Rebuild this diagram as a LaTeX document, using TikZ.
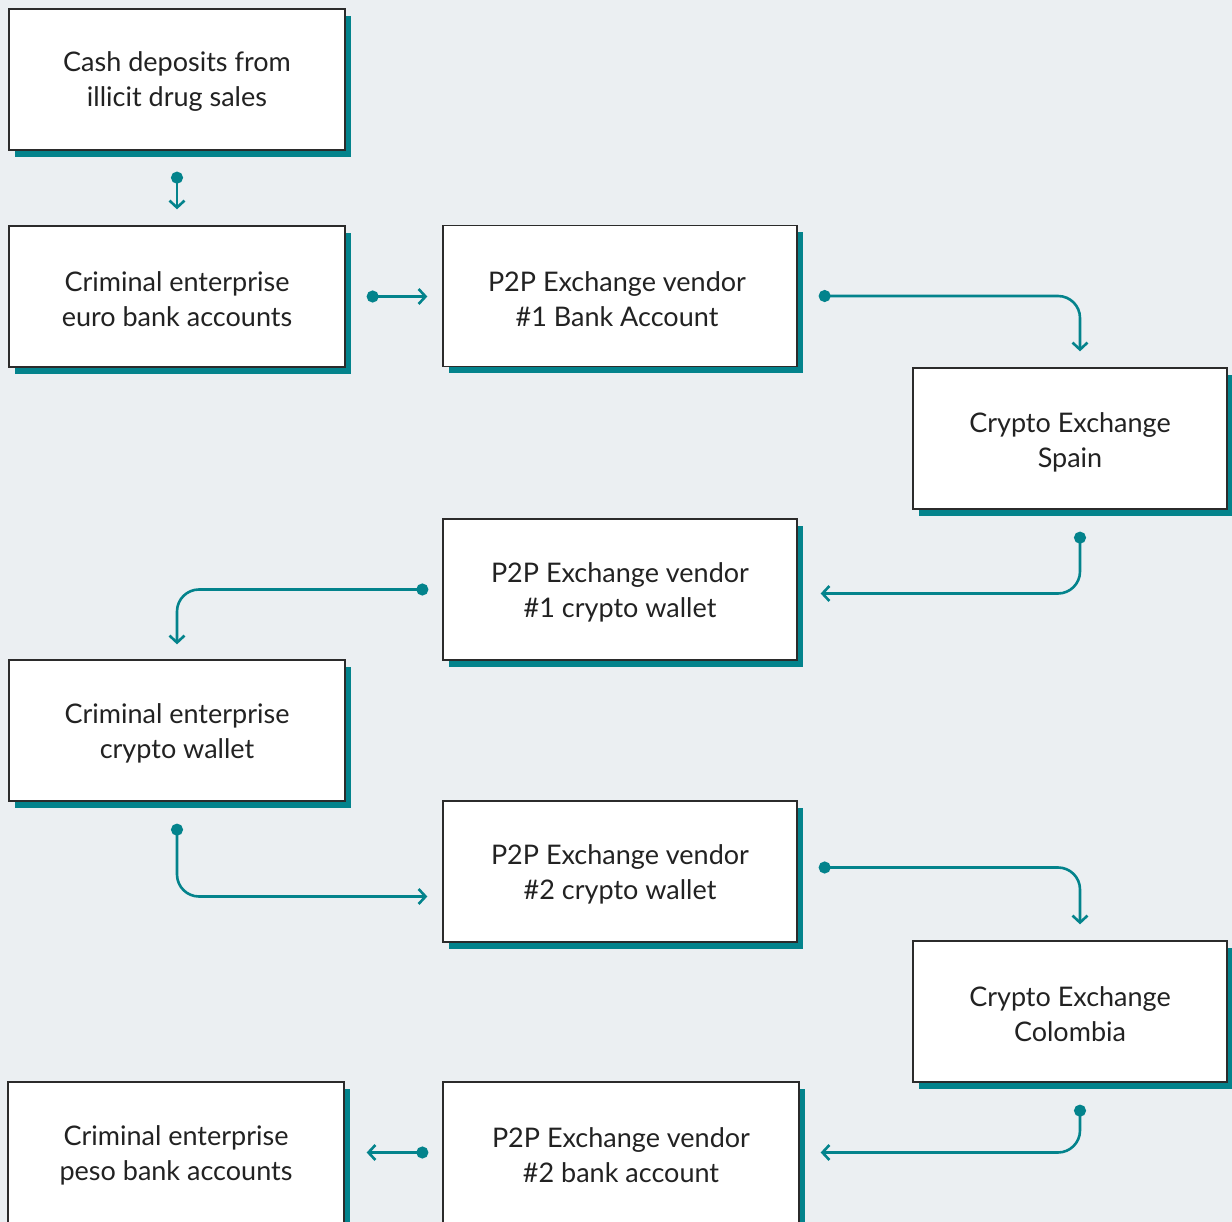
\documentclass[tikz,border=0pt]{standalone}
\usepackage{fontspec}
\setmainfont{Lato}
\usetikzlibrary{arrows.meta,shadows,calc}
\definecolor{bgc}{HTML}{EBEFF2}
\definecolor{tealc}{HTML}{03838C}
\definecolor{edgec}{HTML}{2B2B2B}
\definecolor{txtc}{HTML}{222222}
\begin{document}
\begin{tikzpicture}[x=1pt,y=-1pt,
  boxstyle/.style={draw=edgec, line width=1.3pt, fill=white, minimum height=141pt,
    inner sep=0pt,
    general shadow={fill=tealc, shadow xshift=6pt, shadow yshift=-7pt}},
  txt/.style={align=center, text=txtc, font=\fontsize{27}{35}\selectfont, inner sep=0pt},
  conn/.style={draw=tealc, line width=2.6pt, rounded corners=22pt,
    {Circle[length=12pt,width=12pt]}-{Straight Barb[length=7pt,width=15pt,line width=2.6pt]}}
]
\useasboundingbox (0,0) rectangle (1232,1222);
\fill[bgc] (0,0) rectangle (1232,1222);

\node[boxstyle, minimum width=336pt] (b1) at (177,79.5) {};
\node[txt] (t1) at (177,82) {Cash deposits from\\illicit drug sales};
\node[boxstyle, minimum width=336pt] (b2) at (177,296.5) {};
\node[txt] (t2) at (177,299) {Criminal enterprise\\euro bank accounts};
\node[boxstyle, minimum width=354pt] (b3) at (620,296) {};
\node[txt] (t3) at (617,299) {P2P Exchange vendor\\\#1 Bank Account};
\node[boxstyle, minimum width=314pt] (b4) at (1070,438.5) {};
\node[txt] (t4) at (1070,442) {Crypto Exchange\\Spain};
\node[boxstyle, minimum width=354pt] (b5) at (620,589.5) {};
\node[txt] (t5) at (620,592) {P2P Exchange vendor\\\#1 crypto wallet};
\node[boxstyle, minimum width=336pt] (b6) at (177,730.5) {};
\node[txt] (t6) at (177,733) {Criminal enterprise\\crypto wallet};
\node[boxstyle, minimum width=354pt] (b7) at (620,871.5) {};
\node[txt] (t7) at (620,874) {P2P Exchange vendor\\\#2 crypto wallet};
\node[boxstyle, minimum width=314pt] (b8) at (1070,1011.5) {};
\node[txt] (t8) at (1070,1014) {Crypto Exchange\\Colombia};
\node[boxstyle, minimum width=336pt] (b9) at (176,1152.5) {};
\node[txt] (t9) at (176,1155) {Criminal enterprise\\peso bank accounts};
\node[boxstyle, minimum width=356pt] (b10) at (621,1152.5) {};
\node[txt] (t10) at (621,1155) {P2P Exchange vendor\\\#2 bank account};

% connectors (start points sit one dot-radius before the dot centre)
\coordinate (s1) at ($(b1.south)+(0,21)$);
\coordinate (e1) at ($(b2.north)+(0,-16)$);
\draw[conn] (s1) -- (e1);

\coordinate (s2) at ($(b2.east)+(21,0)$);
\coordinate (e2) at ($(b3.west)+(-15,0)$);
\draw[conn] (s2) -- (s2 -| e2);

\coordinate (s3) at ($(b3.east)+(21,0)$);
\coordinate (e3) at ($(b4.north)+(10,-16)$);
\draw[conn] (s3) -| (e3);

\coordinate (s4) at ($(b4.south)+(10,22)$);
\coordinate (e4) at ($(b5.east)+(23,4)$);
\draw[conn] (s4) |- (e4);

\coordinate (s5) at ($(b5.west)+(-14,0)$);
\coordinate (e5) at ($(b6.north)+(0,-15)$);
\draw[conn] (s5) -| (e5);

\coordinate (s6) at ($(b6.south)+(0,22)$);
\coordinate (e6) at ($(b7.west)+(-15,25)$);
\draw[conn] (s6) |- (e6);

\coordinate (s7) at ($(b7.east)+(21,-4)$);
\coordinate (e7) at ($(b8.north)+(10,-16)$);
\draw[conn] (s7) -| (e7);

\coordinate (s8) at ($(b8.south)+(10,22)$);
\coordinate (e8) at ($(b10.east)+(21,0)$);
\draw[conn] (s8) |- (e8);

\coordinate (s9) at ($(b10.west)+(-14,0)$);
\coordinate (e9) at ($(b9.east)+(22,0)$);
\draw[conn] (s9) -- (e9);
\end{tikzpicture}
\end{document}
